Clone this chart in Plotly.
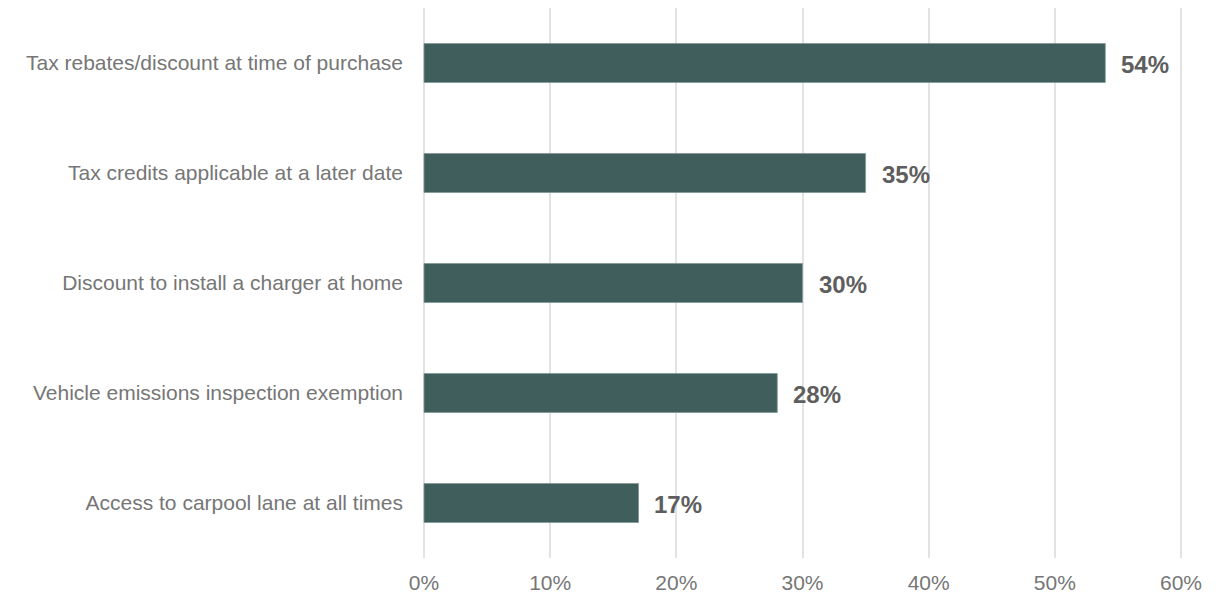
import plotly.graph_objects as go

categories = [
    "Tax rebates/discount at time of purchase",
    "Tax credits applicable at a later date",
    "Discount to install a charger at home",
    "Vehicle emissions inspection exemption",
    "Access to carpool lane at all times",
]
shares = [54, 35, 30, 28, 17]
tick_vals = [0, 10, 20, 30, 40, 50, 60]
tick_text = ["0%", "10%", "20%", "30%", "40%", "50%", "60%"]

BAR = "#3f5e5c"
FONT = "Liberation Sans, Arial, sans-serif"

fig = go.Figure(
    go.Bar(
        x=shares,
        y=categories,
        orientation="h",
        width=0.355,
        marker=dict(color=BAR, line=dict(color="#7f9896", width=0.8)),
        hoverinfo="skip",
    )
)

for cat, val in zip(categories, shares):
    fig.add_annotation(
        x=val, y=cat, text=f"<b>{val}%</b>", showarrow=False,
        xanchor="left", xshift=14, yshift=-1,
        font=dict(family=FONT, size=24, color="#5e5e5e"),
    )

fig.update_layout(
    width=1219, height=595,
    margin=dict(l=423, r=37, t=8, b=37),
    paper_bgcolor="white", plot_bgcolor="white",
    showlegend=False,
    font=dict(family=FONT),
)
fig.update_xaxes(
    range=[-0.08, 60.08], tickvals=tick_vals, ticktext=tick_text,
    showgrid=True, gridcolor="#e3e3e3", gridwidth=2,
    zeroline=False, showline=False, automargin=False,
    tickfont=dict(family=FONT, size=21, color="#767676"),
    ticklabelstandoff=10,
)
fig.update_yaxes(
    autorange="reversed", showgrid=False, zeroline=False, showline=False,
    automargin=False,
    tickfont=dict(family=FONT, size=21, color="#767676"),
    ticklabelstandoff=19,
)

fig.write_html("out.html")
